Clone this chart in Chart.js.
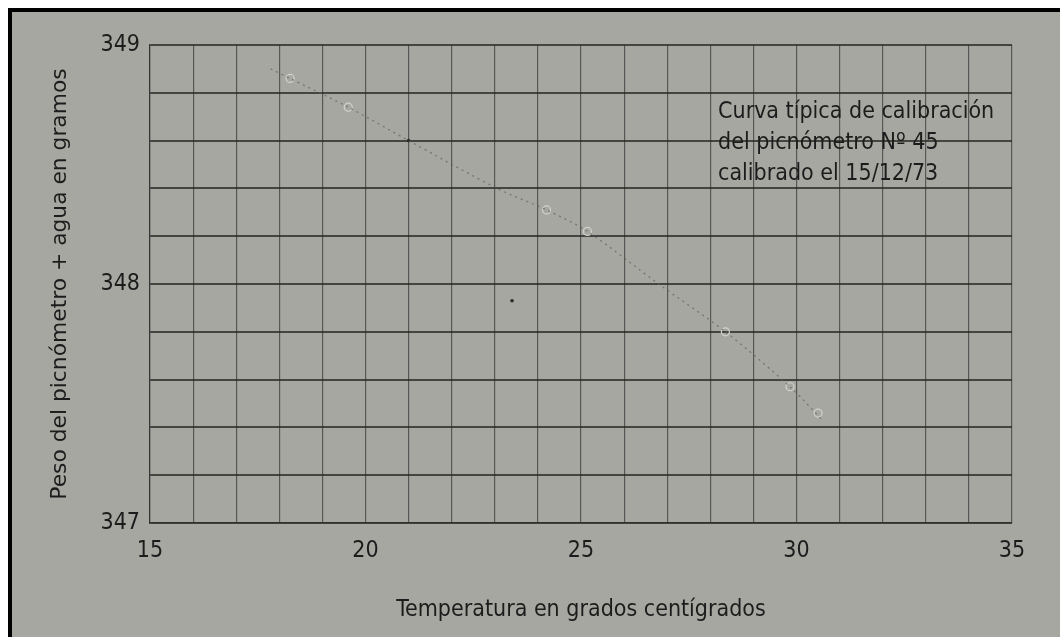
<!DOCTYPE html>
<html>
<head>
<meta charset="utf-8">
<script src="https://cdn.jsdelivr.net/npm/chart.js@4"></script>
<style>
  html, body { margin: 0; padding: 0; background: #fff; }
  #frame {
    position: absolute; left: 8px; top: 8px; width: 1048px; height: 625px;
    border-top: 4px solid #000; border-left: 4px solid #000;
    background: #a7a7a2;
  }
  #c { display: block; }
</style>
</head>
<body>
<div id="frame"><canvas id="c" width="1048" height="625"></canvas></div>
<script>
// measured points (temperature °C, weight g)
const tempPoints = [18.25, 19.6, 24.2, 25.15, 28.35, 29.85, 30.5];
const weightPoints = [348.86, 348.74, 348.31, 348.22, 347.80, 347.57, 347.46];

// hand-drawn calibration curve
const curveTemp = [17.8, 18.25, 19.6, 21.0, 23.05, 24.2, 25.15, 26.8, 28.35, 29.85, 30.6];
const curveWeight = [348.9, 348.86, 348.74, 348.6, 348.4, 348.31, 348.22, 348.0, 347.80, 347.57, 347.43];

// loose marks on the sheet
const dotTemp = [21.0, 23.4];
const dotWeight = [348.6, 347.93];

const xTickLabels = ['15', '20', '25', '30', '35'];
const yTickLabels = ['347', '348', '349'];

const noteLines = ['Curva típica de calibración', 'del picnómetro Nº 45', 'calibrado el 15/12/73'];
const noteTemp = 28.18;
const noteWeight = [348.72, 348.59, 348.46];

const xyPairs = (xs, ys) => xs.map((x, i) => ({ x, y: ys[i] }));
const narrow = '"DejaVu Sans Condensed", "Liberation Sans Narrow", "Liberation Sans", sans-serif';

const notePlugin = {
  id: 'note',
  afterDatasetsDraw(chart) {
    const { ctx, scales: { x, y } } = chart;
    ctx.save();
    ctx.fillStyle = '#1c1c1c';
    ctx.font = '23px ' + narrow;
    ctx.textBaseline = 'middle';
    ctx.textAlign = 'left';
    noteLines.forEach((t, i) => ctx.fillText(t, x.getPixelForValue(noteTemp), y.getPixelForValue(noteWeight[i])));
    ctx.restore();
  }
};

new Chart(document.getElementById('c'), {
  type: 'scatter',
  data: {
    datasets: [
      {
        type: 'line',
        data: xyPairs(curveTemp, curveWeight),
        borderColor: 'rgba(95,95,92,0.7)',
        borderWidth: 1.3,
        borderDash: [2, 4],
        tension: 0.3,
        pointRadius: 0,
        fill: false
      },
      {
        data: xyPairs(tempPoints, weightPoints),
        pointRadius: 4,
        pointBorderWidth: 1.2,
        pointBorderColor: '#d2d2ce',
        pointBackgroundColor: 'rgba(0,0,0,0)'
      },
      {
        data: xyPairs(dotTemp, dotWeight),
        pointRadius: 1.8,
        pointBorderWidth: 0,
        pointBackgroundColor: '#2a2a2a'
      }
    ]
  },
  options: {
    responsive: false,
    animation: false,
    layout: { padding: { top: 33, right: 48, left: 0, bottom: 0 } },
    plugins: { legend: { display: false }, tooltip: { enabled: false } },
    scales: {
      x: {
        min: 15, max: 35,
        afterFit: s => { s.height = 114; },
        grid: { color: 'rgba(45,45,45,0.65)', lineWidth: 1.2, drawTicks: false },
        border: { color: 'rgba(45,45,45,0.8)', width: 1.2 },
        ticks: {
          stepSize: 1, padding: 14, color: '#1c1c1c', maxRotation: 0, autoSkip: false,
          font: { family: narrow, size: 23 },
          callback: v => xTickLabels.includes(String(v)) ? String(v) : ''
        },
        title: {
          display: true, text: 'Temperatura en grados centígrados', color: '#1c1c1c',
          font: { family: narrow, size: 23 }, padding: { top: 0, bottom: 13 }
        }
      },
      y: {
        min: 347, max: 349,
        afterFit: s => { s.width = 138; },
        grid: { color: 'rgba(40,40,40,0.78)', lineWidth: 2, drawTicks: false },
        border: { color: 'rgba(45,45,45,0.8)', width: 1.2 },
        ticks: {
          stepSize: 0.2, padding: 10, color: '#1c1c1c', autoSkip: false,
          font: { family: narrow, size: 23 },
          callback: v => {
            const s = String(Math.round(v));
            return Math.abs(v - Math.round(v)) < 1e-6 && yTickLabels.includes(s) ? s : '';
          }
        },
        title: {
          display: true, text: 'Peso del picnómetro + agua en gramos', color: '#1c1c1c',
          font: { family: '"DejaVu Sans", sans-serif', size: 21.8 }, padding: { top: 35, bottom: 0 }
        }
      }
    }
  },
  plugins: [notePlugin]
});
</script>
</body>
</html>
